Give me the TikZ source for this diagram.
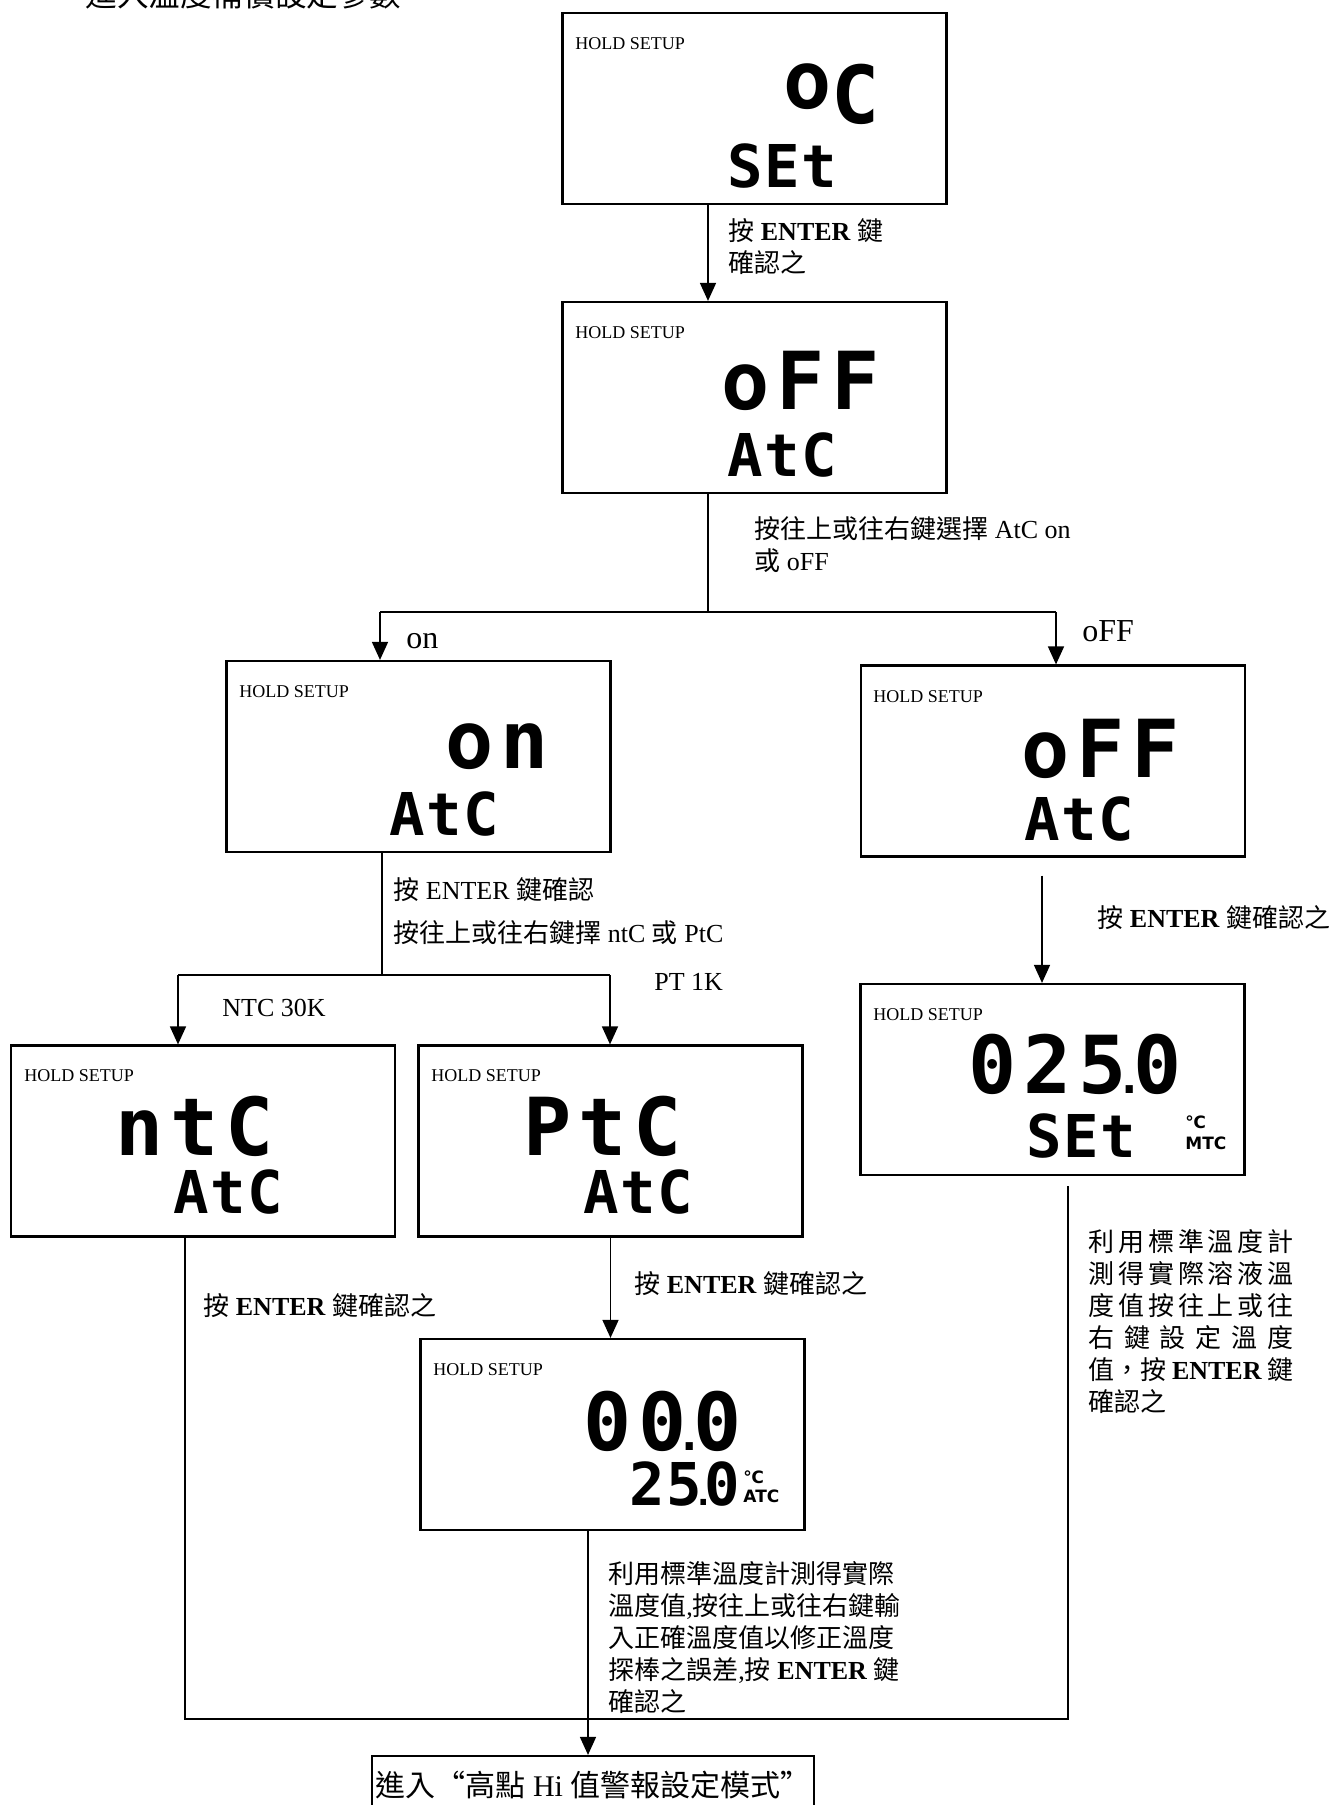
\documentclass[tikz,border=0pt]{standalone}
\usepackage{fontspec}
\setmainfont{Liberation Serif}
\newfontfamily\zh{Noto Sans CJK TC}
\newfontfamily\lcdbig[LetterSpace=8.5]{DejaVu Sans Mono}
\newfontfamily\lcdsmall[LetterSpace=2.5]{DejaVu Sans Mono}
\newfontfamily\unitfont{DejaVu Sans}
\usetikzlibrary{arrows.meta,positioning,calc}

\begin{document}
\begin{tikzpicture}[x=0.5pt,y=-0.5pt,
  every node/.style={font=\fontsize{13}{16}\selectfont},
  lcd/.style={draw,line width=1.1pt,minimum width=192pt,minimum height=95.5pt,inner sep=0pt},
  hold/.style={anchor=west,inner sep=0pt,font=\fontsize{9}{9}\selectfont},
  big/.style={anchor=base east,inner sep=0pt,font=\lcdbig\bfseries\fontsize{40}{40}\selectfont},
  small/.style={anchor=base west,inner sep=0pt,font=\lcdsmall\bfseries\fontsize{29.5}{30}\selectfont},
  unitlbl/.style={anchor=west,inner sep=0pt,font=\unitfont\bfseries\fontsize{8.5}{9}\selectfont},
  note/.style={anchor=west,align=left,inner sep=0pt},
  arrow/.style={-{Triangle[length=9pt,width=8pt]},line width=0.8pt},
  link/.style={line width=0.8pt}
]
\useasboundingbox (0,0) rectangle (1339,1805);

% title, cut at the top
\node[anchor=south west,inner sep=0pt,font=\zh\fontsize{15.8}{16}\selectfont] (title) at (85,10) {進入溫度補償設定參數};

% display boxes
\node[lcd] (s1) at (754.5,108.5) {};
\node[lcd] (s2) at (754.5,397.5) {};
\node[lcd] (on) at (418.5,756.5) {};
\node[lcd] (offR) at (1053,761) {};
\node[lcd] (ntc) at (203,1141) {};
\node[lcd] (ptc) at (610.5,1141) {};
\node[lcd] (set25) at (1052.5,1079.5) {};
\node[lcd] (atc00) at (612.5,1434.5) {};

% display texts
\node[hold] (h1) at (575,44) {HOLD SETUP};
\node[big] (s1big) at (880,123) {\raisebox{7.3pt}{o}C};
\node[small] (s1small) at (727,187) {SEt};

\node[hold] (h2) at (575,333) {HOLD SETUP};
\node[big] (s2big) at (880,409) {oFF};
\node[small] (s2small) at (727,476) {AtC};

\node[hold] (h3) at (239,692) {HOLD SETUP};
\node[big] (onbig) at (549,768) {on};
\node[small] (onsmall) at (389,835) {AtC};

\node[hold] (h4) at (873,697) {HOLD SETUP};
\node[big] (offbig) at (1180,777) {oFF};
\node[small] (offsmall) at (1024,840) {AtC};

\node[hold] (h5) at (24,1076) {HOLD SETUP};
\node[big] (ntcbig) at (274,1155) {ntC};
\node[small] (ntcsmall) at (173,1213) {AtC};

\node[hold] (h6) at (431,1076) {HOLD SETUP};
\node[big] (ptcbig) at (682,1155) {PtC};
\node[small] (ptcsmall) at (583,1213) {AtC};

\node[hold] (h7) at (873,1015) {HOLD SETUP};
\node[big] (setbig) at (1182,1093) {025\kern1.7pt\makebox[0pt]{\fontsize{22}{22}\selectfont.}\kern1.7pt0};
\node[small] (setsmall) at (1026,1157) {SEt};
\node[unitlbl] (u1) at (1185,1122) {℃};
\node[unitlbl] (m1) at (1185,1143) {MTC};

\node[hold] (h8) at (433,1370) {HOLD SETUP};
\node[big] (atcbig) at (742,1450) {00\kern1.7pt\makebox[0pt]{\fontsize{22}{22}\selectfont.}\kern1.7pt0};
\node[small,anchor=base east] (atcsmall) at (740,1505) {25\kern0.4pt\makebox[0pt]{\fontsize{17}{17}\selectfont.}\kern0.4pt0};
\node[unitlbl] (u2) at (743,1477) {℃};
\node[unitlbl] (m2) at (743,1496) {ATC};

% final step
\node[draw,line width=1.1pt,minimum width=221pt,minimum height=29pt,inner sep=0pt,
  font=\fontsize{15}{15}\selectfont] (final) at (593,1785)
  {{\zh 進入“高點} Hi {\zh 值警報設定模式”}};

% labels
\node[note] (l1) at (728,247) {{\zh 按} \textbf{ENTER} {\zh 鍵}\\{\zh 確認之}};
\node[note] (l2) at (754,545) {{\zh 按往上或往右鍵選擇} AtC on\\{\zh 或} oFF};
\node[note,font=\fontsize{16}{16}\selectfont] (lon) at (406,641) {on};
\node[note,font=\fontsize{16}{16}\selectfont] (loff) at (1082,631) {oFF};
\node[note] (l3) at (393,911) {{\zh 按} ENTER {\zh 鍵確認}\\[5.5pt]{\zh 按往上或往右鍵擇} ntC {\zh 或} PtC};
\node[note] (lntc) at (222,1008) {NTC 30K};
\node[note] (lptc) at (654,982) {PT 1K};
\node[note] (l4) at (1097,918) {{\zh 按} \textbf{ENTER} {\zh 鍵確認之}};
\node[note] (l5) at (634,1284) {{\zh 按} \textbf{ENTER} {\zh 鍵確認之}};
\node[note] (l6) at (203,1306) {{\zh 按} \textbf{ENTER} {\zh 鍵確認之}};
\node[note] (l7) at (608,1637) {{\zh 利用標準溫度計測得實際}\\{\zh 溫度值},{\zh 按往上或往右鍵輸}\\{\zh 入正確溫度值以修正溫度}\\{\zh 探棒之誤差},{\zh 按} \textbf{ENTER} {\zh 鍵}\\{\zh 確認之}};
\node[note] (l8) at (1088,1322) {%
  \makebox[102.5pt][s]{\zh 利 用 標 準 溫 度 計}\\
  \makebox[102.5pt][s]{\zh 測 得 實 際 溶 液 溫}\\
  \makebox[102.5pt][s]{\zh 度 值 按 往 上 或 往}\\
  \makebox[102.5pt][s]{\zh 右 鍵 設 定 溫 度}\\
  \makebox[102.5pt][s]{{\zh 值，按} \textbf{ENTER} {\zh 鍵}}\\
  {\zh 確認之}};

% connectors
\coordinate (t1) at (708,612);
\coordinate (bl) at (380,612);
\coordinate (br) at (1056,612);
\draw[arrow] (t1 |- s1.south) -- (t1 |- s2.north);
\draw[link] (t1 |- s2.south) -- (t1);
\draw[link] (bl) -- (br);
\draw[arrow] (bl) -- (bl |- on.north);
\draw[arrow] (br) -- (br |- offR.north);

\coordinate (t2) at (382,975);
\coordinate (nl) at (178,975);
\coordinate (pl) at (610,975);
\draw[link] (t2 |- on.south) -- (t2);
\draw[link] (nl) -- (pl);
\draw[arrow] (nl) -- (nl |- ntc.north);
\draw[arrow] (pl) -- (pl |- ptc.north);

\coordinate (t3) at (1042,877);
\draw[arrow,shorten <=9pt] (t3 |- offR.south) -- (t3 |- set25.north);
\draw[arrow] (ptc.south) -- (ptc.south |- atc00.north);

\coordinate (b1) at (185,1719);
\coordinate (b2) at (1068,1719);
\coordinate (b3) at (588,1719);
\draw[link,shorten >=5pt] (b1 |- ntc.south) -- (b1) -- (b2) -- (b2 |- set25.south);
\draw[arrow] (b3 |- atc00.south) -- (b3 |- final.north);
\end{tikzpicture}
\end{document}
